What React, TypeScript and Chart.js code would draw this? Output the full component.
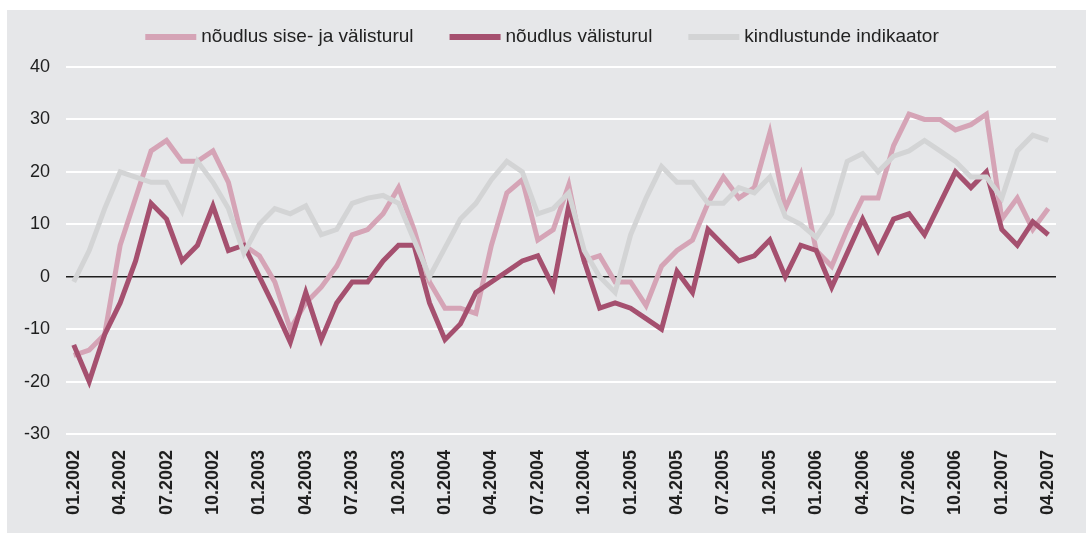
import React, { useEffect, useRef } from 'react';
import { Chart, registerables } from 'chart.js';

Chart.register(...registerables);

const categories = [
  '01.2002', '02.2002', '03.2002', '04.2002', '05.2002', '06.2002', '07.2002', '08.2002', '09.2002', '10.2002', '11.2002', '12.2002',
  '01.2003', '02.2003', '03.2003', '04.2003', '05.2003', '06.2003', '07.2003', '08.2003', '09.2003', '10.2003', '11.2003', '12.2003',
  '01.2004', '02.2004', '03.2004', '04.2004', '05.2004', '06.2004', '07.2004', '08.2004', '09.2004', '10.2004', '11.2004', '12.2004',
  '01.2005', '02.2005', '03.2005', '04.2005', '05.2005', '06.2005', '07.2005', '08.2005', '09.2005', '10.2005', '11.2005', '12.2005',
  '01.2006', '02.2006', '03.2006', '04.2006', '05.2006', '06.2006', '07.2006', '08.2006', '09.2006', '10.2006', '11.2006', '12.2006',
  '01.2007', '02.2007', '03.2007', '04.2007',
];

const demandTotal = [
  -15, -14, -11, 6, 15, 24, 26, 22, 22, 24, 18, 6,
  4, -1, -10, -5, -2, 2, 8, 9, 12, 17, 9, -1,
  -6, -6, -7, 6, 16, 18.5, 7, 9, 17.5, 3, 4, -1,
  -1, -5.5, 2, 5, 7, 14, 19, 15, 17, 27.5, 13, 19.5,
  5, 2, 9, 15, 15, 25, 31, 30, 30, 28, 29, 31,
  11, 15, 9, 13,
];

const demandExport = [
  -13, -20, -11, -5, 3, 14, 11, 3, 6, 13.5, 5, 6,
  0, -6, -12.5, -3, -12, -5, -1, -1, 3, 6, 6, -5,
  -12, -9, -3, -1, 1, 3, 4, -2, 13.5, 3, -6, -5,
  -6, -8, -10, 1, -3, 9, 6, 3, 4, 7, 0, 6,
  5, -2, 4.5, 11, 5, 11, 12, 8, 14, 20, 17, 20,
  9, 6, 10.5, 8,
];

const confidence = [
  -1, 5, 13, 20, 19, 18, 18, 12.5, 22, 18, 13, 4.5,
  10, 13, 12, 13.5, 8, 9, 14, 15, 15.5, 14, 7, 0,
  5.5, 11, 14, 18.5, 22, 20, 12, 13, 16, 5, 0, -3,
  8, 15, 21, 18, 18, 14, 14, 17, 16, 19, 11.5, 10,
  7.5, 12, 22, 23.5, 20, 23, 24, 26, 24, 22, 19, 19,
  15, 24, 27, 26,
];

const seriesNames = ['nõudlus sise- ja välisturul', 'nõudlus välisturul', 'kindlustunde indikaator'];
const seriesColors = ['#d5a4b6', '#a5506f', '#d3d4d5'];

const yMin = -30;
const yMax = 40;
const yStep = 10;

const FONT = '"Liberation Sans", Arial, Helvetica, sans-serif';

const topLegend = {
  id: 'topLegend',
  afterDraw(chart: any) {
    const ctx = chart.ctx;
    ctx.save();
    ctx.font = `19px ${FONT}`;
    const boxW = 51;
    const boxH = 6;
    const gap = 5;
    const between = 36;
    const items = chart.data.datasets.map((ds: any) => ({
      text: ds.label,
      color: ds.borderColor,
      w: ctx.measureText(ds.label).width,
    }));
    const total =
      items.reduce((s: number, it: any) => s + boxW + gap + it.w, 0) + between * (items.length - 1);
    let x = 535 - total / 2;
    const y = 27;
    items.forEach((it: any) => {
      ctx.fillStyle = it.color;
      ctx.fillRect(x, y - boxH / 2, boxW, boxH);
      x += boxW + gap;
      ctx.fillStyle = '#222';
      ctx.textBaseline = 'middle';
      ctx.textAlign = 'left';
      ctx.fillText(it.text, x, y);
      x += it.w + between;
    });
    ctx.restore();
  },
};

export default function App() {
  const canvasRef = useRef<HTMLCanvasElement | null>(null);

  useEffect(() => {
    if (!canvasRef.current) return;
    const seriesData = [demandTotal, demandExport, confidence];
    const orders = [3, 2, 1];
    const chart = new Chart(canvasRef.current, {
      type: 'line',
      data: {
        labels: categories,
        datasets: seriesData.map((d, i) => ({
          label: seriesNames[i],
          data: d,
          borderColor: seriesColors[i],
          backgroundColor: seriesColors[i],
          borderWidth: 5,
          pointRadius: 0,
          pointHoverRadius: 0,
          tension: 0,
          borderJoinStyle: 'miter' as const,
          fill: false,
          order: orders[i],
        })),
      },
      options: {
        animation: false,
        responsive: true,
        maintainAspectRatio: false,
        layout: { padding: { top: 57, right: 19, bottom: 0, left: 0 } },
        plugins: {
          legend: { display: false },
          tooltip: { enabled: false },
        },
        scales: {
          x: {
            type: 'category',
            offset: true,
            grid: { display: false, drawTicks: false },
            border: { display: false },
            ticks: {
              autoSkip: false,
              maxRotation: 90,
              minRotation: 90,
              padding: 16,
              color: '#1f1f1f',
              font: { family: FONT, size: 18, weight: 'bold' },
              callback: (_v: any, i: number) => (i % 3 === 0 ? categories[i] : ''),
            },
            afterFit: (s: any) => {
              s.height = 99;
            },
          },
          y: {
            min: yMin,
            max: yMax,
            ticks: {
              stepSize: yStep,
              padding: 16,
              color: '#1f1f1f',
              font: { family: FONT, size: 18 },
            },
            grid: {
              drawTicks: false,
              color: (c: any) => (c.tick && c.tick.value === 0 ? '#1e1e1e' : '#ffffff'),
              lineWidth: (c: any) => (c.tick && c.tick.value === 0 ? 1.5 : 2),
            },
            border: { display: false },
            afterFit: (s: any) => {
              s.width = 59;
            },
          },
        },
      },
      plugins: [topLegend],
    } as any);
    return () => chart.destroy();
  }, []);

  return (
    <div
      style={{
        position: 'absolute',
        left: 7,
        top: 10,
        width: 1079,
        height: 523,
        background: '#e6e7e9',
      }}
    >
      <canvas ref={canvasRef} />
    </div>
  );
}
